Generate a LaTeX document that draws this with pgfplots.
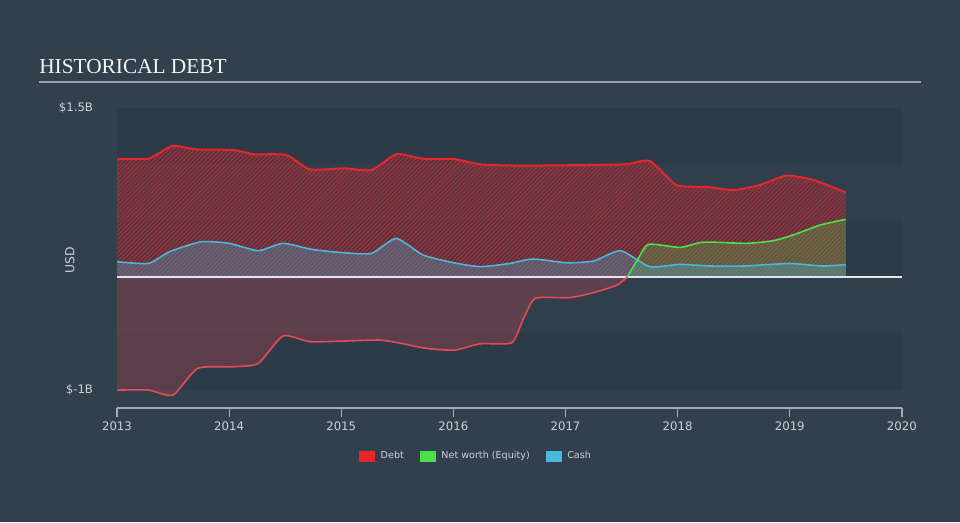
\documentclass[border=0pt]{standalone}
\usepackage{fontspec}
\setmainfont{DejaVu Sans}
\newfontfamily\titlefont{Liberation Serif}
\usepackage{pgfplots}
\usepackage{pgfplotstable}
\usetikzlibrary{patterns.meta}
\pgfplotsset{compat=1.18}

\definecolor{bg}{HTML}{323F4D}
\definecolor{bandA}{HTML}{2D3A48}
\definecolor{bandB}{HTML}{313E4C}
\definecolor{debtred}{HTML}{E5262C}
\definecolor{negred}{HTML}{E54B52}
\definecolor{eqgreen}{HTML}{4CDF4C}
\definecolor{cashblue}{HTML}{47B8DB}
\definecolor{axisgrey}{HTML}{A3ADBA}
\definecolor{ticktext}{HTML}{CDD1D6}
\definecolor{titleline}{HTML}{9BA3AC}

% values in billions USD
\pgfplotstableread{
x y
2013.00 1.050
2013.28 1.050
2013.49 1.162
2013.71 1.133
2014.04 1.127
2014.22 1.090
2014.51 1.083
2014.72 0.955
2015.02 0.965
2015.27 0.950
2015.49 1.090
2015.73 1.050
2016.00 1.047
2016.24 1.000
2016.50 0.990
2016.83 0.990
2017.52 1.000
2017.75 1.030
2017.99 0.816
2018.26 0.800
2018.50 0.772
2018.73 0.816
2018.97 0.900
2019.21 0.861
2019.50 0.750
}\debt

\pgfplotstableread{
x y
2013.00 0.136
2013.28 0.121
2013.47 0.225
2013.75 0.313
2014.00 0.299
2014.26 0.234
2014.48 0.299
2014.74 0.245
2015.02 0.216
2015.27 0.210
2015.49 0.343
2015.73 0.195
2016.00 0.127
2016.24 0.092
2016.50 0.120
2016.71 0.160
2017.01 0.127
2017.25 0.142
2017.49 0.234
2017.75 0.092
2018.02 0.112
2018.29 0.098
2018.59 0.098
2019.00 0.120
2019.29 0.098
2019.50 0.110
}\cash

\pgfplotstableread{
x y
2013.00 -1.003
2013.28 -1.003
2013.50 -1.047
2013.72 -0.810
2014.04 -0.796
2014.26 -0.766
2014.48 -0.523
2014.72 -0.574
2015.02 -0.568
2015.34 -0.559
2015.49 -0.580
2015.76 -0.633
2016.01 -0.648
2016.24 -0.592
2016.52 -0.583
2016.62 -0.380
2016.73 -0.189
2017.04 -0.183
2017.28 -0.130
2017.46 -0.071
2017.55 0.000
}\eqneg

\pgfplotstableread{
x y
2017.55 0.000
2017.64 0.150
2017.74 0.290
2018.02 0.263
2018.23 0.310
2018.61 0.299
2018.85 0.322
2019.03 0.373
2019.27 0.461
2019.50 0.512
}\eqpos

\begin{document}
\begin{tikzpicture}[x=0.75pt,y=0.75pt]
\fill[bg] (0,0) rectangle (960,522);
\node[anchor=base west, inner sep=0, text=white!94!bg,
  font=\titlefont\fontsize{16}{18}\selectfont] at (39,448) {HISTORICAL DEBT};
\draw[titleline, line width=1.5pt] (39,440) -- (921,440);

\begin{axis}[
    at={(87.75pt,85.5pt)}, anchor=south west,
    scale only axis,
    width=588.75pt, height=225pt,
    xmin=2013, xmax=2020,
    ymin=-1.162, ymax=1.5,
    axis x line*=bottom,
    axis y line*=left,
    y axis line style={draw=none},
    x axis line style={axisgrey, line width=0.9pt},
    xtick={2013,...,2020},
    x tick style={axisgrey, line width=0.9pt},
    tick align=outside,
    major tick length=6.5pt,
    ytick={-1,1.5},
    yticklabels={\$-1B,\$1.5B},
    y tick style={draw=none},
    yticklabel style={xshift=-8pt},
    /pgf/number format/assume math mode=true,
    /pgf/number format/1000 sep={},
    tick label style={font=\fontsize{8.8}{10}\selectfont, text=ticktext},
    ylabel={USD},
    every axis y label/.style={at={(axis description cs:-0.06,0.493)}, rotate=90,
      anchor=center, font=\fontsize{9.3}{10}\selectfont, text=ticktext},
    legend style={at={(axis description cs:0.457,-0.16)}, anchor=center,
      draw=none, fill=none, legend columns=3,
      font=\fontsize{7.2}{9}\selectfont, text=ticktext,
      nodes={inner sep=1pt},
      /tikz/every odd column/.append style={column sep=3.5pt},
      /tikz/every even column/.append style={column sep=11pt}},
    legend cell align=left,
]
% horizontal bands
\fill[bandA] (axis cs:2013,1.5) rectangle (axis cs:2020,1.0);
\fill[bandB] (axis cs:2013,1.0) rectangle (axis cs:2020,0.5);
\fill[bandA] (axis cs:2013,0.5) rectangle (axis cs:2020,0.0);
\fill[bandB] (axis cs:2013,0.0) rectangle (axis cs:2020,-0.5);
\fill[bandA] (axis cs:2013,-0.5) rectangle (axis cs:2020,-1.0);

% areas
\addplot[forget plot, draw=none, fill=debtred, fill opacity=0.2, smooth, tension=0.35]
  table {\debt} \closedcycle;
\addplot[forget plot, draw=none, pattern={Lines[angle=45,distance=2.3pt,line width=0.8pt]},
  pattern color=debtred!68!bg, smooth, tension=0.35]
  table {\debt} \closedcycle;
\addplot[forget plot, draw=none, fill=negred, fill opacity=0.25, smooth, tension=0.35]
  table {\eqneg} \closedcycle;
\addplot[forget plot, draw=none, fill=eqgreen, fill opacity=0.25, smooth, tension=0.35]
  table {\eqpos} \closedcycle;
\addplot[forget plot, draw=none, fill=cashblue, fill opacity=0.3, smooth, tension=0.35]
  table {\cash} \closedcycle;

% zero line
\addplot[forget plot, color=white!70!axisgrey, line width=0.9pt] coordinates {(2013,0) (2020,0)};

% lines
\addplot[forget plot, debtred, line width=1.5pt, smooth, tension=0.35] table {\debt};
\addplot[forget plot, cashblue, line width=1.2pt, smooth, tension=0.35] table {\cash};
\addplot[forget plot, negred, line width=1.2pt, smooth, tension=0.35] table {\eqneg};
\addplot[forget plot, eqgreen, line width=1.2pt, smooth, tension=0.35] table {\eqpos};

% legend
\addlegendimage{legend image code/.code={\fill[debtred] (0pt,-3.7pt) rectangle (11.25pt,3.7pt);}}
\addlegendentry{Debt}
\addlegendimage{legend image code/.code={\fill[eqgreen] (0pt,-3.7pt) rectangle (11.25pt,3.7pt);}}
\addlegendentry{Net worth (Equity)}
\addlegendimage{legend image code/.code={\fill[cashblue] (0pt,-3.7pt) rectangle (11.25pt,3.7pt);}}
\addlegendentry{Cash}
\end{axis}
\end{tikzpicture}
\end{document}
